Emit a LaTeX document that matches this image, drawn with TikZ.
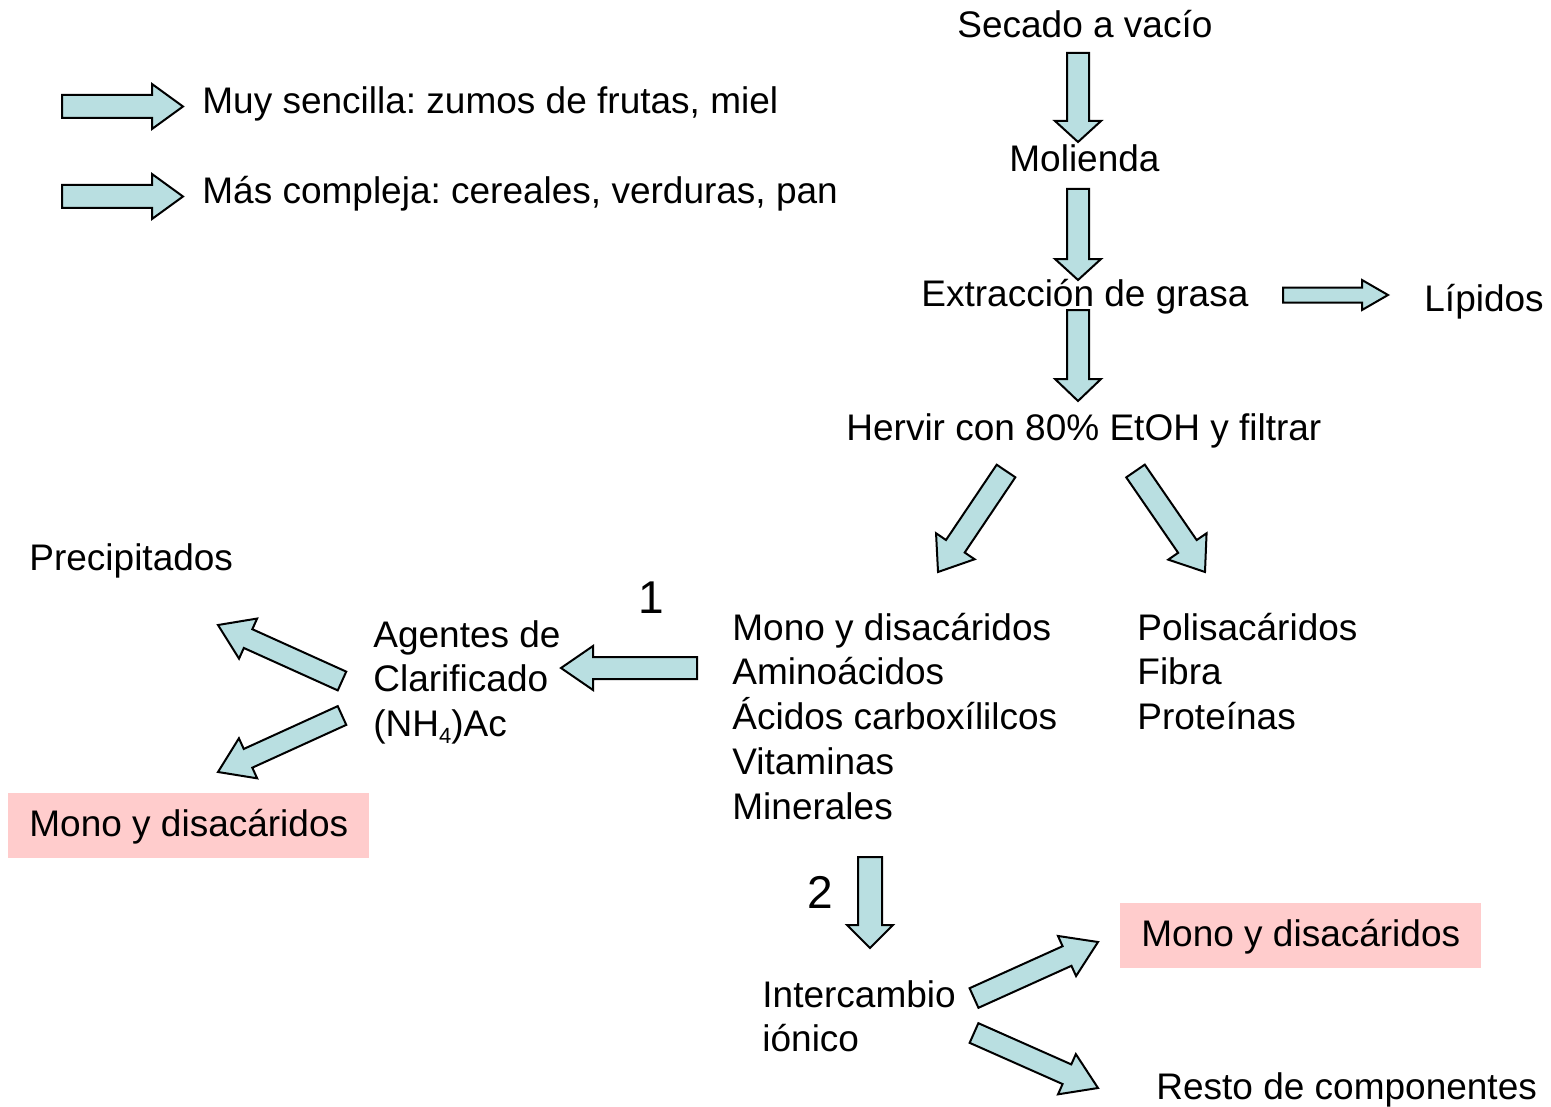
\documentclass[tikz,border=0pt]{standalone}
\usepackage{fontspec}
\setmainfont{Liberation Sans}
\frenchspacing
\definecolor{arrfill}{RGB}{185,223,225}
\definecolor{pinkfill}{RGB}{255,204,204}
\tikzset{
  blockarrow/.style={draw=black, fill=arrfill, line width=1pt, line join=miter},
  txt/.style={anchor=base west, inner sep=0pt, font=\fontsize{18.5pt}{22.4pt}\selectfont},
  bignum/.style={anchor=base west, inner sep=0pt, font=\fontsize{23pt}{26pt}\selectfont},
  pinkbox/.style={anchor=base west, fill=pinkfill, inner xsep=10.5pt, inner ysep=0pt,
    text height=21.5pt, text depth=11pt, font=\fontsize{18.5pt}{22.4pt}\selectfont}
}
\newcommand\blockarr[5]{%
  \pgfmathanglebetweenpoints{\pgfpointanchor{#1}{center}}{\pgfpointanchor{#2}{center}}%
  \let\barang\pgfmathresult
  \pgfpointdiff{\pgfpointanchor{#1}{center}}{\pgfpointanchor{#2}{center}}%
  \pgfgetlastxy{\barx}{\bary}%
  \pgfmathveclen{\barx}{\bary}%
  \let\barlen\pgfmathresult
  \draw[blockarrow, shift={(#1)}, rotate=\barang, x=0.5pt, y=0.5pt]
    (0,{-#3/2}) -- ({2*\barlen-#5},{-#3/2}) -- ({2*\barlen-#5},{-#4/2})
    -- ({2*\barlen},0) -- ({2*\barlen-#5},{#4/2}) -- ({2*\barlen-#5},{#3/2})
    -- (0,{#3/2}) -- cycle;
}
\begin{document}
\begin{tikzpicture}[x=0.5pt, y=-0.5pt]
\useasboundingbox (0,0) rectangle (1551,1107);

% text nodes
\node[txt] (secado) at (957,38) {Secado a vacío};
\node[txt] (muy) at (202,114) {Muy sencilla: zumos de frutas, miel};
\node[txt] (mas) at (202,204) {Más compleja: cereales, verduras, pan};
\node[txt] (molienda) at (1009,172) {Molienda};
\node[txt] (extr) at (921,306) {Extracción de grasa};
\node[txt] (lip) at (1424,311) {Lípidos};
\node[txt] (hervir) at (846,440) {Hervir con 80\% EtOH y filtrar};
\node[txt] (precip) at (29,570) {Precipitados};
\node[bignum] (uno) at (638,613) {1};
\node[txt] (agentes) at (373,647) {\vtop{\hbox{Agentes de}\hbox{Clarificado}\hbox{(NH\raisebox{-0.35ex}{\fontsize{11pt}{11pt}\selectfont 4})Ac}}};
\node[txt] (mono) at (732,640) {\vtop{\hbox{Mono y disacáridos}\hbox{Aminoácidos}\hbox{Ácidos carboxílilcos}\hbox{Vitaminas}\hbox{Minerales}}};
\node[txt] (poli) at (1137,640) {\vtop{\hbox{Polisacáridos}\hbox{Fibra}\hbox{Proteínas}}};
\node[pinkbox] (pinkL) at (8,836) {Mono y disacáridos};
\node[bignum] (dos) at (807,908) {2};
\node[txt] (inter) at (762,1007) {\vtop{\hbox{Intercambio}\hbox{iónico}}};
\node[pinkbox] (pinkR) at (1120,946) {Mono y disacáridos};
\node[txt] (resto) at (1156,1099) {Resto de componentes};

% arrow end points
\coordinate (l1a) at (62,106.5);   \coordinate (l1b) at (183,106.5);
\coordinate (l2a) at (62,196.5);   \coordinate (l2b) at (183,196.5);
\coordinate (v1a) at (1078,53);    \coordinate (v1b) at (1078,142);
\coordinate (v2a) at (1078,189);   \coordinate (v2b) at (1078,280);
\coordinate (v3a) at (1078,310);   \coordinate (v3b) at (1078,401);
\coordinate (lipa) at (1283,295);  \coordinate (lipb) at (1388,295);
\coordinate (dla) at (1006,471);   \coordinate (dlb) at (938,572);
\coordinate (dra) at (1135.5,471); \coordinate (drb) at (1205,572);
\coordinate (h1a) at (697,668);    \coordinate (h1b) at (561,668);
\coordinate (ula) at (342,681);    \coordinate (ulb) at (218,625);
\coordinate (lla) at (342,715.5);  \coordinate (llb) at (218,772);
\coordinate (v4a) at (870,857);    \coordinate (v4b) at (870,948);
\coordinate (ura) at (974,998);    \coordinate (urb) at (1098,942);
\coordinate (rra) at (974,1033);   \coordinate (rrb) at (1098,1088);

% block arrows
\blockarr{l1a}{l1b}{23}{45}{31}
\blockarr{l2a}{l2b}{23}{45}{31}
\blockarr{v1a}{v1b}{22}{46}{21}
\blockarr{v2a}{v2b}{22}{46}{21}
\blockarr{v3a}{v3b}{22}{46}{22}
\blockarr{lipa}{lipb}{15}{30}{26}
\blockarr{dla}{dlb}{22.5}{46.5}{31}
\blockarr{dra}{drb}{22.5}{46.5}{31}
\blockarr{h1a}{h1b}{22}{44}{32}
\blockarr{ula}{ulb}{20.6}{44}{33}
\blockarr{lla}{llb}{20.6}{44}{33}
\blockarr{v4a}{v4b}{24}{46}{23}
\blockarr{ura}{urb}{21.5}{44}{34}
\blockarr{rra}{rrb}{21.5}{44}{34}
\end{tikzpicture}
\end{document}
